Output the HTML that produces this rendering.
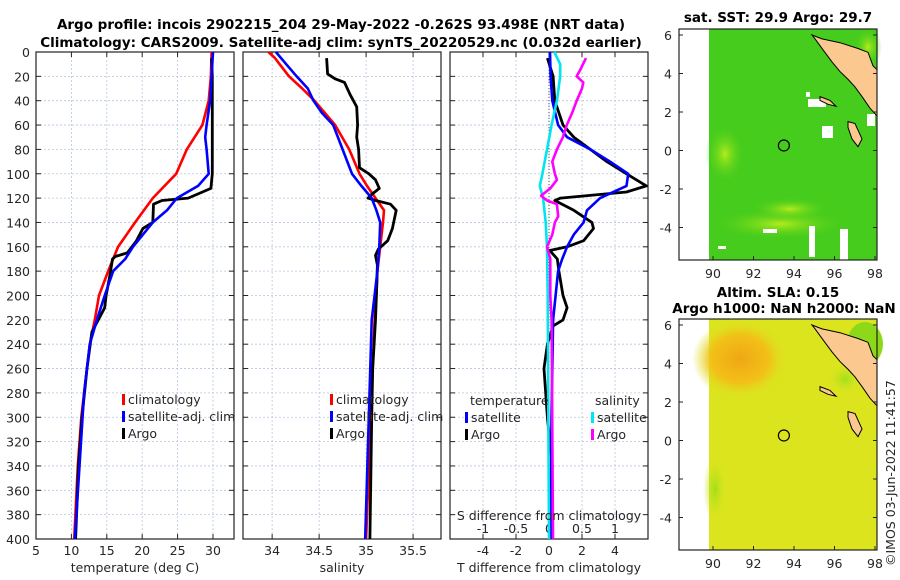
<!DOCTYPE html>
<html><head><meta charset="utf-8"><style>
body{margin:0;background:#fff;}
svg{display:block;font-family:"DejaVu Sans","Liberation Sans",sans-serif;}
.t{font-size:12.5px;fill:#262626;}
.b{font-size:13.5px;font-weight:bold;fill:#000;}
</style></head><body>
<svg id="c" width="900" height="580" viewBox="0 0 900 580">
<defs>
<radialGradient id="og" cx="0.5" cy="0.5" r="0.5"><stop offset="0" stop-color="#f0a814"/><stop offset="0.6" stop-color="#f2c018"/><stop offset="1" stop-color="#dce41e" stop-opacity="0"/></radialGradient>
<radialGradient id="gg" cx="0.5" cy="0.5" r="0.5"><stop offset="0" stop-color="#9ee01a"/><stop offset="1" stop-color="#dce41e" stop-opacity="0"/></radialGradient>
<radialGradient id="yg" cx="0.5" cy="0.5" r="0.5"><stop offset="0" stop-color="#b4ec1c"/><stop offset="1" stop-color="#44cc1c" stop-opacity="0"/></radialGradient>
</defs>
<text class="b" x="341" y="29" text-anchor="middle">Argo profile: incois 2902215_204 29-May-2022 -0.262S 93.498E (NRT data)</text>
<text class="b" x="341" y="47" text-anchor="middle">Climatology: CARS2009. Satellite-adj clim: synTS_20220529.nc (0.032d earlier)</text>
<g id="plots"></g>
</svg>
<script>
// ---- data ----
const depthTicks=[0,20,40,60,80,100,120,140,160,180,200,220,240,260,280,300,320,340,360,380,400];
const tTicks=[5,10,15,20,25,30];
const sTicks=[34,34.5,35,35.5];
const sTickLabels=["34","34.5","35","35.5"];
const dTTicks=[-4,-2,0,2,4];
const dSTicks=[-1,-0.5,0,0.5,1];
const dSTickLabels=["-1","-0.5","0","0.5","1"];

const climTdepth=[0,20,40,60,80,100,120,140,160,180,200,220,240,280,300,340,400];
const climT=[29.8,29.7,29.4,28.5,26.3,24.8,21.5,19.0,16.6,15.2,13.9,13.3,12.6,11.8,11.4,10.9,10.4];
const satTdepth=[0,20,40,60,70,80,100,110,120,130,140,160,170,180,200,220,240,280,400];
const satT=[30.0,29.8,29.6,29.1,28.9,29.1,29.4,27.9,24.9,23.5,21.5,18.7,17.6,15.9,14.7,13.6,12.6,11.8,10.5];
const argoTdepth=[5,20,60,100,112,120,122,125,140,145,155,165,168,170,185,200,210,220,230,260,300,340,400];
const argoT=[29.8,29.9,29.9,29.9,29.7,26.5,22.8,21.6,21.5,20.1,19.2,17.9,16.2,15.8,15.4,14.9,14.7,13.8,12.9,12.2,11.5,11.0,10.6];

const climSdepth=[0,5,10,20,30,40,50,60,80,100,110,120,130,140,160,180,200,220,280,400];
const climS=[33.96,34.03,34.08,34.18,34.32,34.45,34.56,34.67,34.82,34.93,35.01,35.10,35.19,35.18,35.15,35.12,35.11,35.09,35.06,35.0];
const satSdepth=[0,10,20,30,40,50,60,80,100,110,120,130,140,160,180,200,220,400];
const satS=[34.04,34.15,34.26,34.38,34.44,34.53,34.65,34.75,34.85,34.95,35.06,35.11,35.15,35.14,35.12,35.09,35.06,34.99];
const argoSdepth=[5,18,22,25,35,45,60,70,80,95,100,105,112,117,120,122,125,130,145,155,162,167,175,200,220,260,300,400];
const argoS=[34.58,34.59,34.67,34.77,34.83,34.90,34.91,34.90,34.92,34.93,35.03,35.10,35.14,35.06,35.02,35.10,35.26,35.32,35.28,35.23,35.13,35.10,35.12,35.11,35.10,35.07,35.06,35.04];

const satdTdepth=[0,20,40,60,70,80,90,100,110,120,130,140,150,160,170,180,200,220,300,400];
const satdT=[0.06,0.1,0.2,0.55,1.1,2.5,3.7,4.8,4.7,3.1,2.3,2.1,1.5,1.1,0.8,0.55,0.4,0.25,0.15,0.1];
const argodTdepth=[5,20,40,60,70,80,90,100,110,115,120,122,130,140,145,155,160,163,170,180,200,210,220,225,240,260,280,300,340,380,400];
const argodT=[-0.1,0.25,0.35,0.85,1.5,2.5,3.5,4.7,5.9,4.7,0.7,0.35,1.5,2.6,2.7,2.1,1.1,0.05,0.5,0.6,0.85,1.1,0.85,0.25,-0.1,-0.3,-0.2,-0.1,0.2,0.1,0.1];
const satdSdepth=[0,10,20,40,60,80,100,110,120,140,160,200,400];
const satdS=[0.08,0.17,0.17,0.12,0.04,-0.03,-0.10,-0.14,-0.09,-0.05,-0.03,-0.02,0.0];
const argodSdepth=[5,15,20,25,30,40,50,60,70,80,90,100,105,112,118,122,125,135,140,150,160,170,200,220,400];
const argodS=[0.56,0.47,0.42,0.52,0.50,0.42,0.35,0.27,0.21,0.12,0.05,0.09,0.12,0.02,-0.12,-0.03,0.12,0.14,0.09,0.05,-0.03,0.02,0.02,0.04,0.06];

const mapXTicks=[90,92,94,96,98];
const mapYTicks=[6,4,2,0,-2,-4];
const argoLon=93.5, argoLat=0.26;

// ---- drawing ----
const NS="http://www.w3.org/2000/svg";
const root=document.getElementById('plots');
function mk(tag,at,parent){const e=document.createElementNS(NS,tag);for(const k in at)e.setAttribute(k,at[k]);(parent||root).appendChild(e);return e;}
const PT=52,PB=539;
const yD=d=>PT+(d/400)*(PB-PT);
function panel(x0,x1,xmin,xmax,name){
  const sx=v=>x0+(v-xmin)/(xmax-xmin)*(x1-x0);
  const g=mk('g',{});
  
  
  return {sx,g,x0,x1};
}
function gridAndFrame(p,xticks,xlabels,showY,name){
  depthTicks.forEach(d=>{
    const l=mk('line',{x1:p.x0,x2:p.x1,y1:yD(d),y2:yD(d),stroke:'#b8c4e0','stroke-width':0.8,'stroke-dasharray':'2,2'},p.g);
    
    mk('line',{x1:p.x0,x2:p.x0+5,y1:yD(d),y2:yD(d),stroke:'#222'},p.g);
    mk('line',{x1:p.x1,x2:p.x1-5,y1:yD(d),y2:yD(d),stroke:'#222'},p.g);
    if(showY){const t=mk('text',{x:p.x0-6,y:yD(d)+5,'text-anchor':'end',class:'t'},p.g);t.textContent=d;
      }
  });
  xticks.forEach((v,i)=>{
    const x=p.sx(v);
    const l=mk('line',{x1:x,x2:x,y1:PT,y2:PB,stroke:'#b8c4e0','stroke-width':0.8,'stroke-dasharray':'2,2'},p.g);
    
    mk('line',{x1:x,x2:x,y1:PB,y2:PB-5,stroke:'#222'},p.g);
    mk('line',{x1:x,x2:x,y1:PT,y2:PT+5,stroke:'#222'},p.g);
    if(xlabels){const t=mk('text',{x:x,y:555,'text-anchor':'middle',class:'t'},p.g);t.textContent=xlabels[i];
      }
  });
  const r=mk('rect',{x:p.x0,y:PT,width:p.x1-p.x0,height:PB-PT,fill:'none',stroke:'#222','stroke-width':1.2},p.g);
  
}
function line(p,sx,vals,depths,color,name,w){
  const pts=vals.map((v,i)=>sx(v).toFixed(1)+','+yD(depths[i]).toFixed(1)).join(' ');
  const l=mk('polyline',{points:pts,fill:'none',stroke:color,'stroke-width':w||2.6,'stroke-linejoin':'round'},p.g);
  
}
function legendEntry(g,x,y,color,label,name){
  mk('rect',{x:x,y:y-10,width:3,height:11,fill:color},g);
  const t=mk('text',{x:x+6,y:y,class:'t'},g);t.textContent=label;
  
}
function label(x,y,txt,name){const t=mk('text',{x:x,y:y,'text-anchor':'middle',class:'t'});t.textContent=txt;
  }

// Panel 1: temperature
const p1=panel(36,234,5,32.97,'temperature-panel');
gridAndFrame(p1,tTicks,tTicks.map(String),true,'temperature');
line(p1,p1.sx,climT,climTdepth,'#ff0000','temp-climatology-line');
line(p1,p1.sx,argoT,argoTdepth,'#000','temp-argo-line',2.8);
line(p1,p1.sx,satT,satTdepth,'#0000ff','temp-satellite-line');
legendEntry(p1.g,122,404,'#ff0000','climatology','legend-climatology');
legendEntry(p1.g,122,421,'#0000ff','satellite-adj. clim','legend-satellite');
legendEntry(p1.g,122,438,'#000','Argo','legend-argo');
label(135,572,'temperature (deg C)','x-axis-title-temperature');

// Panel 2: salinity
const p2=panel(243,441,33.69,35.797,'salinity-panel');
gridAndFrame(p2,sTicks,sTickLabels,false,'salinity');
line(p2,p2.sx,climS,climSdepth,'#ff0000','sal-climatology-line');
line(p2,p2.sx,argoS,argoSdepth,'#000','sal-argo-line',2.8);
line(p2,p2.sx,satS,satSdepth,'#0000ff','sal-satellite-line');
legendEntry(p2.g,330,404,'#ff0000','climatology','legend-climatology-2');
legendEntry(p2.g,330,421,'#0000ff','satellite-adj. clim','legend-satellite-2');
legendEntry(p2.g,330,438,'#000','Argo','legend-argo-2');
label(342,572,'salinity','x-axis-title-salinity');

// Panel 3: differences
const p3=panel(450,648,-6,6,'difference-panel');
const sxS=v=>p3.sx(v*4);
gridAndFrame(p3,dTTicks,dTTicks.map(String),false,'difference');
mk('line',{x1:p3.sx(0),x2:p3.sx(0),y1:PT,y2:PB,stroke:'#555','stroke-dasharray':'1,2'},p3.g);
dSTicks.forEach((v,i)=>{const t=mk('text',{x:sxS(v),y:533,'text-anchor':'middle',class:'t'},p3.g);t.textContent=dSTickLabels[i];
  });
line(p3,p3.sx,argodT,argodTdepth,'#000','tdiff-argo-line',2.8);
line(p3,p3.sx,satdT,satdTdepth,'#0000ff','tdiff-satellite-line');
line(p3,sxS,satdS,satdSdepth,'#00e5ee','sdiff-satellite-line');
line(p3,sxS,argodS,argodSdepth,'#ff00ff','sdiff-argo-line');
{const t=mk('text',{x:470,y:405,class:'t'},p3.g);t.textContent='temperature';}
{const t=mk('text',{x:595,y:405,class:'t'},p3.g);t.textContent='salinity';}
legendEntry(p3.g,465,422,'#0000ff','satellite','legend-t-satellite');
legendEntry(p3.g,465,439,'#000','Argo','legend-t-argo');
legendEntry(p3.g,591,422,'#00e5ee','satellite','legend-s-satellite');
legendEntry(p3.g,591,439,'#ff00ff','Argo','legend-s-argo');
label(549,520,'S difference from climatology','s-diff-axis-title');
label(549,572,'T difference from climatology','t-diff-axis-title');

// Maps
function map(top,kind){
  const x0=679,x1=877,bot=top+231;
  const lx=v=>713+(v-90)*20.25;
  const ly=v=>top+6+(6-v)*19.25;
  const g=mk('g',{});
  
  
  const base=kind==='sst'?'#46cc1c':'#dce41e';
  mk('rect',{x:709,y:top,width:168,height:231,fill:base},g);
  if(kind==='sst'){
    mk('ellipse',{cx:780,cy:top+195,rx:70,ry:16,fill:'url(#yg)'},g);
    mk('ellipse',{cx:790,cy:top+180,rx:40,ry:12,fill:'url(#yg)'},g);
    mk('ellipse',{cx:725,cy:top+125,rx:20,ry:30,fill:'url(#yg)'},g);
    mk('ellipse',{cx:868,cy:top+18,rx:14,ry:20,fill:'url(#yg)'},g);
    [[808,top+70,18,8],[809,top+197,6,31],[840,top+200,8,31],[763,top+200,14,4],[718,top+217,8,3],[822,top+97,11,12],[867,top+85,8,12],[806,top+63,4,5]].forEach(r=>mk('rect',{x:r[0],y:r[1],width:r[2],height:r[3],fill:'#fff'},g));
  } else {
    mk('ellipse',{cx:740,cy:top+40,rx:48,ry:40,fill:'url(#og)'},g);
    mk('ellipse',{cx:715,cy:top+170,rx:12,ry:35,fill:'url(#gg)'},g);
    mk('ellipse',{cx:865,cy:top+25,rx:18,ry:22,fill:'#8ed81a'},g);
    mk('ellipse',{cx:845,cy:top+60,rx:18,ry:16,fill:'url(#gg)'},g);
  }
  const land=[[812,6],[822,5.8],[840,5.6],[858,5.3],[868,5.1],[873,4.4],[877,4.2],[877,1.8],[870,2.2],[862,2.8],[855,3.3],[848,3.7],[840,4.1],[832,4.6],[822,5.3],[815,5.8]];
  const lp=mk('polygon',{points:land.map(p=>p[0]+','+ly(p[1])).join(' '),fill:'#fbc890',stroke:'#000','stroke-width':1},g);
  
  mk('polygon',{points:[[820,2.8],[830,2.6],[836,2.3],[828,2.4],[820,2.6]].map(p=>p[0]+','+ly(p[1])).join(' '),fill:'#fbc890',stroke:'#000'},g);
  mk('polygon',{points:[[848,1.5],[855,1.4],[862,0.6],[858,0.2],[852,0.6],[848,1.2]].map(p=>p[0]+','+ly(p[1])).join(' '),fill:'#fbc890',stroke:'#000'},g);
  mk('rect',{x:x0,y:top,width:x1-x0,height:231,fill:'none',stroke:'#222','stroke-width':1.2},g);
  mapXTicks.forEach(v=>{mk('line',{x1:lx(v),x2:lx(v),y1:bot,y2:bot-4,stroke:'#222'},g);
    const t=mk('text',{x:lx(v),y:bot+18,'text-anchor':'middle',class:'t'},g);t.textContent=v;
    });
  mapYTicks.forEach(v=>{mk('line',{x1:x0,x2:x0+4,y1:ly(v),y2:ly(v),stroke:'#222'},g);mk('line',{x1:x1,x2:x1-4,y1:ly(v),y2:ly(v),stroke:'#222'},g);
    const t=mk('text',{x:x0-7,y:ly(v)+5,'text-anchor':'end',class:'t'},g);t.textContent=v;
    });
  const c=mk('circle',{cx:lx(argoLon),cy:ly(argoLat),r:5.5,fill:'none',stroke:'#000','stroke-width':1.2},g);
  
  return g;
}
map(29,'sst');
map(319,'sla');
[[778,22,'sat. SST: 29.9 Argo: 29.7','sst-map-title'],[778,297,'Altim. SLA: 0.15','sla-map-title'],[784,313,'Argo h1000: NaN h2000: NaN','sla-map-subtitle']].forEach(a=>{
  const t=mk('text',{x:a[0],y:a[1],'text-anchor':'middle',class:'b'});t.textContent=a[2];
  });
{const t=mk('text',{x:0,y:0,class:'t',transform:'translate(895,566) rotate(-90)'});t.textContent='©IMOS 03-Jun-2022 11:41:57';
 }
</script>
</body></html>
